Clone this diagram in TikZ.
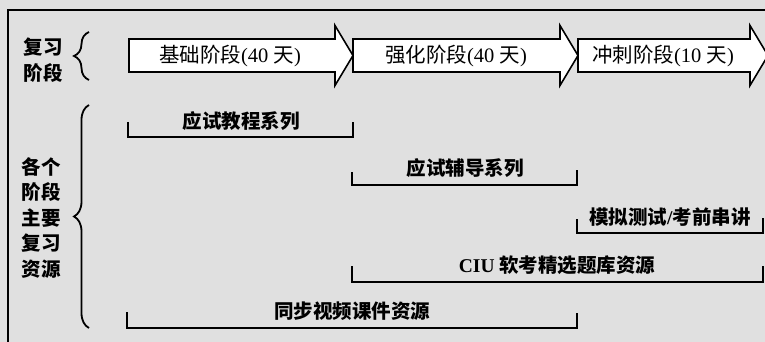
\documentclass[tikz,border=0pt]{standalone}
\usepackage{fontspec}
\setmainfont{Liberation Serif}
\newfontfamily\cjk{Noto Sans CJK SC}
\usetikzlibrary{decorations.pathreplacing}
\definecolor{pScan}{gray}{0.88}
\tikzset{
    stage/.style={draw, line width=1.6pt, fill=white, line join=miter},
    res/.style={line width=2pt},
    lbl/.style={font=\cjk\fontsize{20.5}{25.5}\selectfont, inner sep=0pt, align=center},
    reslbl/.style={lbl, font=\cjk\bfseries\fontsize{19.5}{25.5}\selectfont},
    brc/.style={decorate, decoration={brace, amplitude=15pt}, line width=1.8pt}
}

\begin{document}
\begin{tikzpicture}[x=1pt,y=-1pt]
\fill[pScan] (0,0) rectangle (765,342);
\useasboundingbox (0,0) rectangle (765,342);
\draw[line width=2pt] (765,10) -- (8,10) -- (8,342);
% stages
\draw[stage] (129,39) -- (335,39) -- (335,25.5) -- (353,55.5) -- (335,85.5) -- (335,72) -- (129,72) -- cycle;
\draw[stage] (353,39) -- (560,39) -- (560,25.5) -- (578,55.5) -- (560,85.5) -- (560,72) -- (353,72) -- cycle;
\draw[stage] (578,39) -- (750,39) -- (750,25.5) -- (768,55.5) -- (750,85.5) -- (750,72) -- (578,72) -- cycle;
\node[lbl] (base)   at (230,56) {基础阶段\textrm{(40 }天\textrm{)}};
\node[lbl] (streng) at (456,56) {强化阶段\textrm{(40 }天\textrm{)}};
\node[lbl] (sprint) at (663,56) {冲刺阶段\textrm{(10 }天\textrm{)}};
\node[reslbl] (stages) at (43,60) {复习\\阶段};
\draw[brc] (89,80) -- (89,32);
% resources
\node[reslbl] (res) at (41,218) {各个\\阶段\\主要\\复习\\资源};
\draw[brc] (89,328) -- (89,105);
\draw[res] (128,122) |- (353,137) -- (353,122);
\draw[res] (352,172) |- (577,185) -- (577,170);
\draw[res] (577,219) |- (763,233) -- (763,218);
\draw[res] (352,266) |- (763,282) -- (763,266);
\draw[res] (127,312) |- (577,328) -- (577,313);
\node[reslbl] (course) at (241,121) {应试教程系列};
\node[reslbl] (tutor)  at (465,168) {应试辅导系列};
\node[reslbl] (mock)   at (670,217) {模拟测试\textrm{/}考前串讲};
\node[reslbl] (bank)   at (557,265) {\textrm{CIU} 软考精选题库资源};
\node[reslbl] (video)  at (352,311) {同步视频课件资源};
\end{tikzpicture}
\end{document}
